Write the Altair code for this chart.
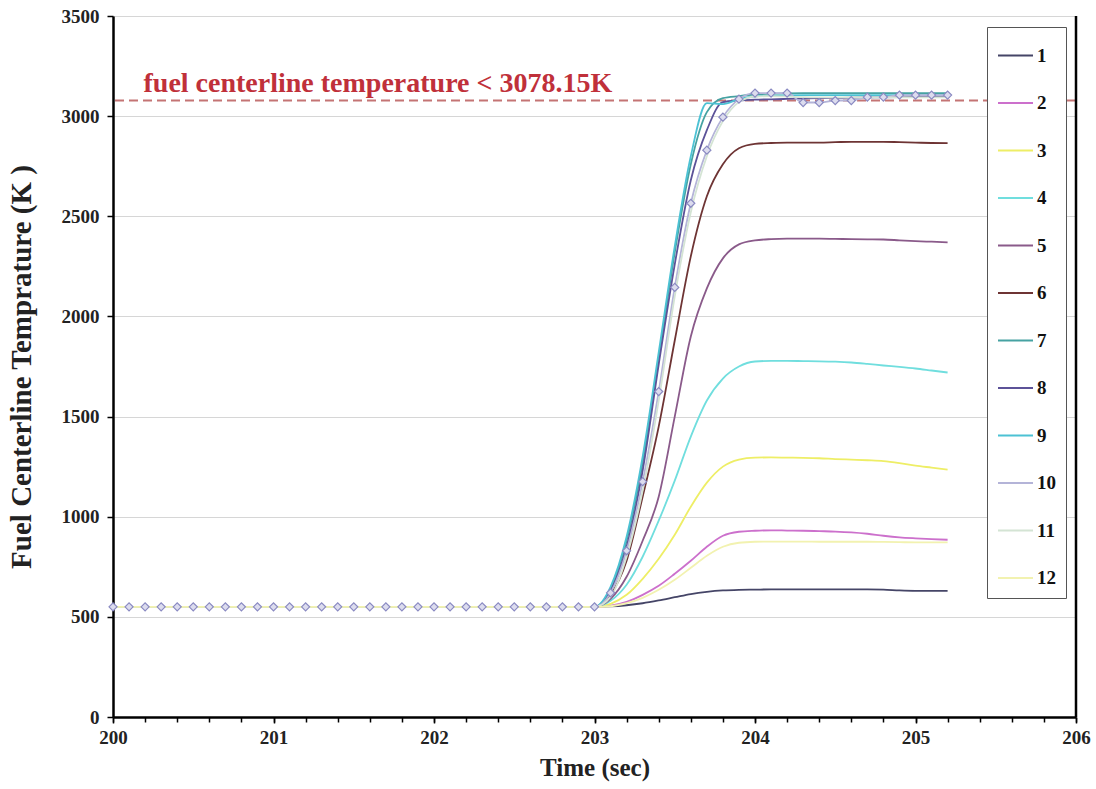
import altair as alt
import pandas as pd

# ---- data ----
BASE_TEMP = 550  # flat value 200.0 .. 202.9
t_flat = [round(200.0 + 0.1 * i, 1) for i in range(30)]
t_rise = [round(203.0 + 0.1 * i, 1) for i in range(23)]

s1 = [550, 552, 558, 568, 582, 598, 614, 625, 632, 635, 636, 637, 637, 637, 637, 637, 637, 637, 636, 632, 630, 630, 630]
s2 = [550, 556, 575, 610, 655, 715, 780, 850, 905, 925, 930, 932, 931, 930, 928, 926, 922, 915, 905, 897, 892, 888, 885]
s3 = [550, 565, 610, 690, 790, 910, 1050, 1170, 1250, 1285, 1295, 1296, 1295, 1294, 1292, 1288, 1285, 1282, 1278, 1268, 1255, 1245, 1235]
s4 = [550, 580, 660, 800, 980, 1180, 1400, 1580, 1690, 1750, 1775, 1778, 1778, 1777, 1776, 1774, 1770, 1763, 1755, 1748, 1740, 1730, 1720]
s5 = [550, 590, 700, 880, 1100, 1500, 1900, 2140, 2290, 2360, 2380, 2386, 2388, 2388, 2388, 2387, 2386, 2385, 2384, 2380, 2376, 2373, 2370]
s6 = [550, 610, 780, 1100, 1450, 1880, 2300, 2600, 2760, 2840, 2862, 2866, 2868, 2868, 2868, 2870, 2872, 2872, 2872, 2870, 2868, 2866, 2865]
s7 = [550, 640, 880, 1270, 1790, 2320, 2760, 3020, 3090, 3100, 3108, 3112, 3114, 3115, 3115, 3115, 3115, 3115, 3115, 3115, 3115, 3115, 3115]
s8 = [550, 630, 850, 1230, 1760, 2260, 2680, 2930, 3070, 3078, 3082, 3084, 3086, 3088, 3090, 3091, 3092, 3093, 3094, 3095, 3096, 3096, 3096]
s9 = [550, 650, 900, 1300, 1820, 2350, 2800, 3065, 3060, 3085, 3098, 3102, 3104, 3105, 3105, 3105, 3105, 3105, 3105, 3105, 3105, 3105, 3105]
s10 = [550, 620, 830, 1175, 1625, 2145, 2565, 2830, 2995, 3085, 3115, 3115, 3115, 3068, 3068, 3078, 3078, 3095, 3095, 3105, 3105, 3105, 3105]
s11 = [550, 600, 800, 1130, 1580, 2100, 2520, 2800, 2975, 3070, 3098, 3100, 3098, 3095, 3094, 3094, 3094, 3094, 3094, 3094, 3094, 3094, 3094]
s12 = [550, 553, 568, 595, 635, 685, 745, 805, 850, 870, 875, 876, 876, 876, 875, 875, 875, 875, 874, 873, 872, 872, 872]

series_names = [str(i) for i in range(1, 13)]
series_values = [s1, s2, s3, s4, s5, s6, s7, s8, s9, s10, s11, s12]
series_colors = ["#454567", "#cc70cc", "#eeee66", "#70dede", "#8a5a8a", "#6e3434",
                 "#46a2a2", "#5c5298", "#4cc2d4", "#b4b4d8", "#d4e4d4", "#f2f2b0"]

LIMIT = 3078.15
LIMIT_TEXT = "fuel centerline temperature < 3078.15K"
x_label_values = [200, 201, 202, 203, 204, 205, 206]
x_minor_values = [round(200 + 0.2 * i, 1) for i in range(31)]
y_tick_values = [0, 500, 1000, 1500, 2000, 2500, 3000, 3500]

rows = []
for name, vals in zip(series_names, series_values):
    for t in t_flat:
        rows.append({"time": t, "temp": BASE_TEMP, "series": name})
    for t, v in zip(t_rise, vals):
        rows.append({"time": t, "temp": v, "series": name})
df = pd.DataFrame(rows)
df_marks = df[df["series"] == "10"]

FONT = "Liberation Serif"
X_SCALE = alt.Scale(domain=[200, 206], nice=False)
Y_SCALE = alt.Scale(domain=[0, 3500], nice=False)

x_enc = alt.X("time:Q", scale=X_SCALE,
              axis=alt.Axis(title="Time (sec)", values=x_label_values, format="d",
                            orient="bottom", labelOverlap=False, labelFlush=False,
                            grid=False, tickSize=6, tickColor="black", tickWidth=1.5,
                            domainColor="black", domainWidth=2.5,
                            labelFont=FONT, labelFontWeight="bold", labelFontSize=19,
                            labelColor="#222", labelPadding=5,
                            titleFont=FONT, titleFontWeight="bold", titleFontSize=25,
                            titleColor="#222", titlePadding=8))
y_enc = alt.Y("temp:Q", scale=Y_SCALE,
              axis=alt.Axis(title="Fuel Centerline Temprature (K )", values=y_tick_values,
                            format="d", labelOverlap=False, labelFlush=False,
                            grid=True, gridColor="#d6d6d6", gridWidth=1.2,
                            tickSize=6, tickColor="black", tickWidth=1.5,
                            domainColor="black", domainWidth=2.5,
                            labelFont=FONT, labelFontWeight="bold", labelFontSize=19,
                            labelColor="#222", labelPadding=8,
                            titleFont=FONT, titleFontWeight="bold", titleFontSize=29,
                            titleColor="#222", titlePadding=25))

color_enc = alt.Color("series:N",
                      scale=alt.Scale(domain=series_names, range=series_colors),
                      legend=alt.Legend(title=None, orient="none", legendX=874, legendY=11,
                                        symbolType="stroke", symbolSize=1225, symbolStrokeWidth=2,
                                        labelFont=FONT, labelFontWeight="bold", labelFontSize=19,
                                        labelColor="#111", rowPadding=18.5, padding=10,
                                        strokeColor="#555", fillColor="white",
                                        labelOffset=3, symbolOffset=0))

lines = alt.Chart(df).mark_line(interpolate="monotone", strokeWidth=1.8).encode(
    x=x_enc, y=y_enc, color=color_enc, detail="series:N"
)

points = alt.Chart(df_marks).mark_point(shape="diamond", size=65, filled=True,
                                        fill="#dcdcee", stroke="#8a8ac2",
                                        strokeWidth=1.2, opacity=1).encode(
    x=alt.X("time:Q", scale=X_SCALE), y=alt.Y("temp:Q", scale=Y_SCALE)
)

limit_rule = alt.Chart(pd.DataFrame({"v": [LIMIT]})).mark_rule(
    color="#c47474", strokeDash=[9, 5], strokeWidth=2
).encode(y=alt.Y("v:Q", scale=Y_SCALE))

limit_text = alt.Chart(pd.DataFrame({"t": [200.19], "v": [3122], "s": [LIMIT_TEXT]})).mark_text(
    align="left", baseline="alphabetic", font=FONT, fontWeight="bold",
    fontSize=28, color="#c0303a"
).encode(x=alt.X("t:Q", scale=X_SCALE), y=alt.Y("v:Q", scale=Y_SCALE), text="s:N")

right_border = alt.Chart(pd.DataFrame({"x": [206]})).mark_rule(
    color="black", strokeWidth=2.5
).encode(x=alt.X("x:Q", scale=X_SCALE))

main = alt.layer(limit_rule, lines, points, limit_text, right_border)

# minor ticks every 0.2 s on the time axis (separate axis, same scale domain)
minor_ticks = alt.Chart(pd.DataFrame({"x": [206]})).mark_rule(opacity=0).encode(
    x=alt.X("x:Q", scale=X_SCALE,
            axis=alt.Axis(values=x_minor_values, labels=False, title=None, domain=False,
                          orient="bottom", grid=False, tickSize=5, tickColor="black",
                          tickWidth=1.5))
)

chart = alt.layer(main, minor_ticks).resolve_scale(x="independent").resolve_axis(
    x="independent"
).properties(
    width=963, height=701,
    autosize=alt.AutoSizeParams(type="none"),
    padding={"left": 113, "top": 16, "right": 20, "bottom": 72},
    background="white"
).configure_view(stroke=None)

chart.save("out.html", embed_options={"renderer": "svg", "actions": False})
